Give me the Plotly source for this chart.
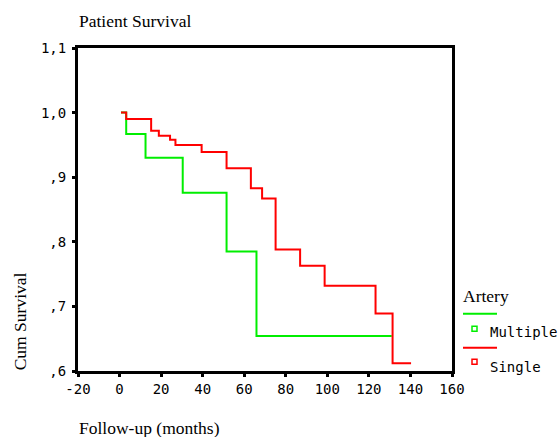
import plotly.graph_objects as go

# Kaplan-Meier step data
time_single = [0.7, 3.2, 15.2, 18.9, 24.3, 26.9, 39.5, 51.5, 63.2, 68.6, 75.1, 86.9, 98.7, 123.2, 131.4, 140.3]
surv_single = [1.0, 0.990, 0.972, 0.964, 0.958, 0.950, 0.939, 0.914, 0.883, 0.867, 0.788, 0.763, 0.732, 0.689, 0.612, 0.612]
time_multiple = [0.7, 3.2, 12.5, 30.4, 51.5, 65.9, 131.0]
surv_multiple = [1.0, 0.967, 0.930, 0.876, 0.785, 0.654, 0.654]

x_ticks = [-20, 0, 20, 40, 60, 80, 100, 120, 140, 160]
y_ticks = [0.6, 0.7, 0.8, 0.9, 1.0, 1.1]
y_ticktext = [",6", ",7", ",8", ",9", "1,0", "1,1"]

GREEN = "#00ee00"
RED = "#ff0000"

W, H = 560, 437
SL, SR, ST, SB = 78, 452, 47.7, 370.7  # plot area in screen pixels
L, T = SL, ST
R = W - SR
B = H - SB
PW, PH = W - L - R, H - T - B

def px(x):
    return (x - L) / PW

def py(y):
    return (H - B - y) / PH

fig = go.Figure()
fig.add_trace(go.Scatter(x=time_multiple, y=surv_multiple, mode="lines",
                         line=dict(color=GREEN, width=2, shape="hv"),
                         name="Multiple", showlegend=False))
fig.add_trace(go.Scatter(x=time_single, y=surv_single, mode="lines",
                         line=dict(color=RED, width=2, shape="hv"),
                         name="Single", showlegend=False))

tickfont = dict(family="DejaVu Sans Mono", size=14, color="black")
fig.update_xaxes(range=[-20, 160], tickvals=x_ticks, ticktext=[str(v) for v in x_ticks],
                 showgrid=False, zeroline=False, showline=True, linewidth=3, linecolor="black",
                 mirror=True, ticks="outside", ticklen=3, tickwidth=3, tickcolor="black",
                 tickfont=tickfont)
fig.update_yaxes(range=[0.6, 1.1], tickvals=y_ticks, ticktext=y_ticktext,
                 showgrid=False, zeroline=False, showline=True, linewidth=3, linecolor="black",
                 mirror=True, ticks="outside", ticklen=3, tickwidth=3, tickcolor="black",
                 tickfont=tickfont, ticklabelstandoff=3)

serif = dict(family="Liberation Serif", size=17.5, color="black")
mono = dict(family="DejaVu Sans Mono", size=14, color="black")
annotations = [
    dict(text="Patient Survival", x=px(77), y=py(21), xref="paper", yref="paper",
         xanchor="left", yanchor="middle", showarrow=False, font=serif),
    dict(text="Follow-up (months)", x=px(76.5), y=py(428), xref="paper", yref="paper",
         xanchor="left", yanchor="middle", showarrow=False, font=serif),
    dict(text="Cum Survival", x=px(20), y=py(372), xref="paper", yref="paper",
         xanchor="center", yanchor="bottom", textangle=-90, showarrow=False, font=serif),
    dict(text="Artery", x=px(461), y=py(296), xref="paper", yref="paper",
         xanchor="left", yanchor="middle", showarrow=False, font=serif),
    dict(text="Multiple", x=px(488), y=py(332), xref="paper", yref="paper",
         xanchor="left", yanchor="middle", showarrow=False, font=mono),
    dict(text="Single", x=px(488), y=py(367), xref="paper", yref="paper",
         xanchor="left", yanchor="middle", showarrow=False, font=mono),
]

shapes = [
    dict(type="line", xref="paper", yref="paper", x0=px(463), x1=px(497), y0=py(313.5), y1=py(313.5),
         line=dict(color=GREEN, width=2)),
    dict(type="line", xref="paper", yref="paper", x0=px(463), x1=px(497), y0=py(347.5), y1=py(347.5),
         line=dict(color=RED, width=2)),
    dict(type="rect", xref="paper", yref="paper", x0=px(472), x1=px(477), y0=py(326), y1=py(331),
         line=dict(color=GREEN, width=1.5), fillcolor="white"),
    dict(type="rect", xref="paper", yref="paper", x0=px(472), x1=px(477), y0=py(359), y1=py(364),
         line=dict(color=RED, width=1.5), fillcolor="white"),
]

fig.update_layout(width=W, height=H, margin=dict(l=L, r=R, t=T, b=B),
                  plot_bgcolor="white", paper_bgcolor="white",
                  annotations=annotations, shapes=shapes, showlegend=False)

fig.write_html("out.html", config={"displayModeBar": False},
               post_script="document.body.style.margin='0';document.body.style.overflow='hidden';")
